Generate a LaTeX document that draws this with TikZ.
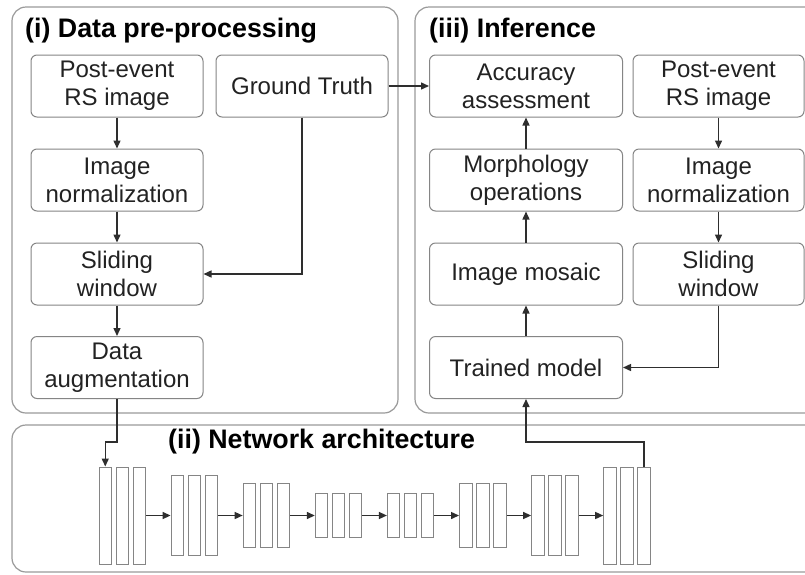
\documentclass[tikz,border=0pt]{standalone}
\usepackage{fontspec}
\setmainfont{Liberation Sans}
\usetikzlibrary{arrows.meta}
\definecolor{panelgray}{HTML}{9A9A9A}
\definecolor{boxgray}{HTML}{858585}
\definecolor{linedark}{HTML}{2E2E2E}
\definecolor{textdark}{HTML}{222222}
\begin{document}
\begin{tikzpicture}[x=1pt,y=-1pt,
  panel/.style={draw=panelgray,line width=1.2pt,rounded corners=14pt},
  stepbox/.style={draw=boxgray,line width=1pt,rounded corners=6pt,inner sep=0pt,
    minimum height=62pt,align=center,text=textdark,
    font=\fontsize{24}{28}\selectfont},
  lbox/.style={stepbox,minimum width=172pt},
  wbox/.style={stepbox,minimum width=193pt},
  rbox/.style={stepbox,minimum width=171pt},
  title/.style={anchor=base west,inner sep=0pt,text=black,
    font=\fontsize{26.8}{30}\selectfont\bfseries},
  bar/.style={draw=boxgray,line width=1pt,inner sep=0pt,minimum width=12.5pt},
  arr/.style={draw=linedark,line width=1.4pt,
    -{Triangle[length=8pt,width=7pt]}},
]
\useasboundingbox (0,0) rectangle (805,574);
\fill[white] (0,0) rectangle (805,574);
\clip (0,0) rectangle (805,574);

% panels
\draw[panel] (12,7) rectangle (398,413);
\draw[panel] (415,7) rectangle (830,413);
\draw[panel] (12,425) rectangle (830,572);

\node[title] (t1) at (25,37) {(i) Data pre-processing};
\node[title] (t3) at (429,37) {(iii) Inference};
\node[title] (t2) at (168,448) {(ii) Network architecture};

% (i) data pre-processing
\node[lbox] (pe1) at (117,86)    {Post-event\\RS image};
\node[lbox] (gt)  at (302,86)    {Ground Truth};
\node[lbox] (in1) at (117,180)   {Image\\normalization};
\node[lbox] (sw1) at (117,274)   {Sliding\\window};
\node[lbox] (da)  at (117,367.5) {Data\\augmentation};

% (iii) inference
\node[wbox] (acc) at (526,86)    {Accuracy\\assessment};
\node[rbox] (pe2) at (718.5,86)  {Post-event\\RS image};
\node[wbox] (mo)  at (526,180)   {Morphology\\operations};
\node[rbox] (in2) at (718.5,180) {Image\\normalization};
\node[wbox] (im)  at (526,274)   {Image mosaic};
\node[rbox] (sw2) at (718.5,274) {Sliding\\window};
\node[wbox] (tm)  at (526,367.5) {Trained model};

% (ii) network: eight groups of three feature maps
\foreach \k/\h in {1/97,2/80,3/64,4/44,5/44,6/64,7/80,8/97}{
  \foreach \j in {1,2,3}{
    \node[bar,minimum height=\h pt] (b\k\j) at ({99+(\k-1)*72.1+(\j-1)*17+6.25},515.5) {};
  }
}
\foreach \k [evaluate=\k as \n using int(\k+1)] in {1,...,7}{
  \draw[arr] (b\k3.east) -- (b\n1.west);
}

% connectors in (i)
\draw[arr] (pe1) -- (in1);
\draw[arr] (in1) -- (sw1);
\draw[arr] (sw1) -- (da);
\draw[arr] (gt.south) |- (sw1.east);
\draw[arr] (gt.east) -- (acc.west);

% connectors in (iii)
\draw[arr] (pe2) -- (in2);
\draw[arr] (in2) -- (sw2);
\draw[arr] (sw2.south) |- (tm.east);
\draw[arr] (tm) -- (im);
\draw[arr] (im) -- (mo);
\draw[arr] (mo) -- (acc);

% links with the network
\draw[arr] (da.south) -- (da.south |- 0,442) -| (b11.north);
\draw[arr] (b83.north) -- (b83.north |- 0,442) -| (tm.south);
\end{tikzpicture}
\end{document}
